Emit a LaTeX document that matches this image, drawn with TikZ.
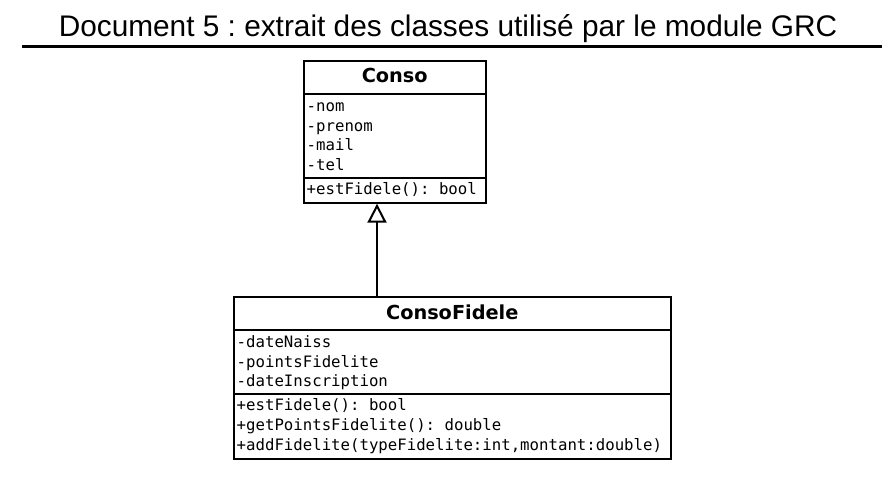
\documentclass[tikz,border=0pt]{standalone}
\usepackage{fontspec}
\setmainfont{Liberation Sans}
\newfontfamily\monof{DejaVu Sans Mono}
\newfontfamily\hdrf{DejaVu Sans Bold}
\usetikzlibrary{arrows.meta}
\frenchspacing
\begin{document}
\begin{tikzpicture}[x=1pt,y=-1pt,
  classbox/.style={draw=black, line width=2pt, fill=white, inner sep=0pt, anchor=north west},
  divider/.style={line width=2pt},
  mono/.style={font=\monof\fontsize{15.7}{18}\selectfont, inner sep=0pt, anchor=base west},
  hdr/.style={font=\hdrf\fontsize{19.3}{22}\selectfont, inner sep=0pt, anchor=base},
  conn/.style={line width=2pt, -{Triangle[open,length=19pt,width=19pt]}}
]
\useasboundingbox[fill=white] (0,0) rectangle (893,479);
% title
\node[font=\fontsize{29.8}{33}\selectfont, inner sep=0pt, anchor=base] (title) at (448,36) {Document 5 : extrait des classes utilisé par le module GRC};
\coordinate (rl) at (22,46.7);
\coordinate (rr) at (882,46.7);
\draw[line width=2.6pt] (rl) -- (rr);

% class Conso
\node[classbox, minimum width=182.5pt, minimum height=141.7pt] (conso) at (302.5,60) {};
\draw[divider] (conso.west |- 0,93.5) -- (conso.east |- 0,93.5);
\draw[divider] (conso.west |- 0,177.7) -- (conso.east |- 0,177.7);
\node[hdr] (consoname) at (conso.center |- 0,82.3) {Conso};
\node[mono] (ca1) at (306.5,111.5) {-nom};
\node[mono] (ca2) at (306.5,131) {-prenom};
\node[mono] (ca3) at (306.5,150.5) {-mail};
\node[mono] (ca4) at (306.5,170) {-tel};
\node[mono] (cm1) at (306.5,194) {+estFidele(): bool};

% class ConsoFidele
\node[classbox, minimum width=437.5pt, minimum height=162pt] (fidele) at (232.5,296) {};
\draw[divider] (fidele.west |- 0,330) -- (fidele.east |- 0,330);
\draw[divider] (fidele.west |- 0,394) -- (fidele.east |- 0,394);
\node[hdr] (fidelename) at (fidele.center |- 0,319.3) {ConsoFidele};
\node[mono] (fa1) at (236.5,347.7) {-dateNaiss};
\node[mono] (fa2) at (236.5,367.3) {-pointsFidelite};
\node[mono] (fa3) at (236.5,386.7) {-dateInscription};
\node[mono] (fm1) at (236.5,410.7) {+estFidele(): bool};
\node[mono] (fm2) at (236.5,430.7) {+getPointsFidelite(): double};
\node[mono] (fm3) at (236.5,450.7) {+addFidelite(typeFidelite:int,montant:double)};

% inheritance
\draw[conn] (fidele.north -| 377,0) -- (conso.south -| 377,0);
\end{tikzpicture}
\end{document}
